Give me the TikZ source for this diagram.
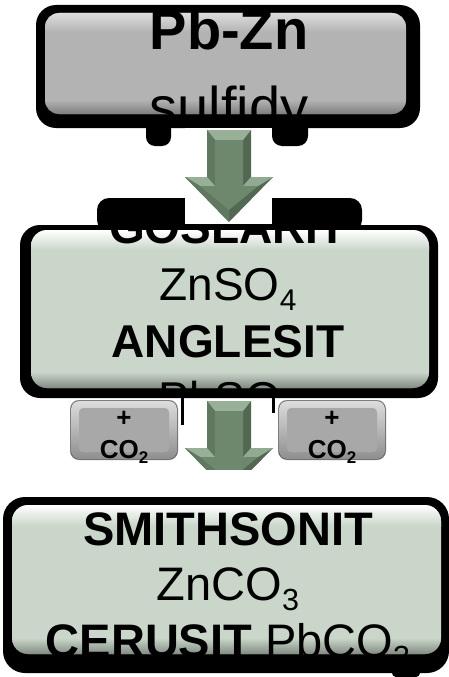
\documentclass[tikz,border=0pt]{standalone}
\usepackage{fontspec}
\setmainfont{Liberation Sans}
\definecolor{boxgray}{RGB}{179,179,179}
\definecolor{boxgreen}{RGB}{201,214,201}
\definecolor{arrowdark}{RGB}{82,104,82}
\definecolor{arrowmid}{RGB}{110,136,110}
\definecolor{arrowside}{RGB}{96,120,96}
\definecolor{arrowlight}{RGB}{152,176,152}
\definecolor{smallgray}{RGB}{168,168,168}
\newcommand\lowsub[1]{\raisebox{-0.22em}{\scalebox{0.65}{#1}}}
\newcommand\blockarrow{%
  \fill[arrowdark] (207,130) -- (251,130) -- (251,177) -- (273,177) -- (229,222) -- (185,177) -- (207,177) -- cycle;
  \fill[arrowlight] (207,130) -- (251,130) -- (243,140) -- (215,140) -- cycle;
  \fill[arrowside] (207,130) -- (215,140) -- (215,186) -- (207,177) -- cycle;
  \fill[arrowlight] (185,177) -- (207,177) -- (215,186) -- (200,186) -- cycle;
  \fill[arrowlight!85!arrowmid] (273,177) -- (251,177) -- (243,186) -- (258,186) -- cycle;
  \fill[arrowside] (185,177) -- (200,186) -- (229,210) -- (229,222) -- cycle;
  \fill[arrowmid] (215,140) -- (243,140) -- (243,186) -- (258,186) -- (229,210) -- (200,186) -- (215,186) -- cycle;
}
\tikzset{
  shadowblob/.style={fill=black},
  txt/.style={anchor=base, inner sep=0pt, text=black},
  bigfont/.style={font=\fontsize{56}{60}\selectfont},
  bigbold/.style={font=\fontsize{56}{60}\selectfont\bfseries},
  midfont/.style={font=\fontsize{46}{50}\selectfont},
  midbold/.style={font=\fontsize{46}{50}\selectfont\bfseries},
  lowfont/.style={font=\fontsize{47}{50}\selectfont},
  lowbold/.style={font=\fontsize{47}{50}\selectfont\bfseries},
  smallfont/.style={font=\fontsize{26}{28}\selectfont\bfseries},
}
\begin{document}
\begin{tikzpicture}[x=1pt,y=-1pt]
\useasboundingbox (0,0) rectangle (449,677);
\fill[white] (0,0) rectangle (449,677);

% ---------- top box ----------
\fill[shadowblob, rounded corners=20] (36,5) rectangle (420,128);
\fill[shadowblob, rounded corners=9] (146,116) rectangle (171,146);
\fill[shadowblob, rounded corners=10] (272,116) rectangle (308,146);
\fill[boxgray, rounded corners=14] (45,13) rectangle (406,114);
\begin{scope}
  \clip[rounded corners=14] (45,13) rectangle (406,114);
  \fill[top color=boxgray!45!white, bottom color=boxgray] (45,13) rectangle (406,32);
  \fill[top color=boxgray, bottom color=boxgray!70!black] (45,100) rectangle (406,114);
\end{scope}
\begin{scope}
  \clip[rounded corners=14] (45,5) rectangle (406,114);
  \node[txt, bigbold] (pbzn) at (229,50) {Pb-Zn};
  \node[txt, bigfont] (sulf) at (229,126) {sulfidy};
\end{scope}

% ---------- middle box ----------
\fill[shadowblob, rounded corners=12] (97,198) rectangle (362,232);
\fill[shadowblob, rounded corners=20] (20,225) rectangle (438,398);
\fill[boxgreen, rounded corners=16] (31,230) rectangle (429,388);
\begin{scope}
  \clip[rounded corners=16] (31,230) rectangle (429,388);
  \fill[top color=white, bottom color=boxgreen] (31,230) rectangle (429,250);
  \fill[top color=boxgreen, bottom color=boxgreen!65!black] (31,372) rectangle (429,388);
  \node[txt, midbold] (gosl) at (228,243) {GOSLARIT};
  \node[txt, midfont] (znso) at (228,300) {ZnSO\lowsub{4}};
  \node[txt, midbold] (angl) at (228,357) {ANGLESIT};
  \node[txt, midfont] (pbso) at (228,414) {PbSO\lowsub{4}};
\end{scope}

% ---------- arrow 1 ----------
\fill[white] (185,128) rectangle (272,224);
\blockarrow

% ---------- small boxes ----------
\draw[line width=3pt] (182.5,398) -- (182.5,425);
\draw[line width=3pt] (273.5,398) -- (273.5,413);
\foreach \cx/\nm in {124/L, 332/R} {
  \fill[smallgray!75!black, rounded corners=9] (\cx-54,400) rectangle (\cx+54,460);
  \fill[top color=smallgray!40!white, bottom color=smallgray!85!black, rounded corners=8] (\cx-53,401) rectangle (\cx+53,459);
  \fill[smallgray, rounded corners=4] (\cx-45,408) rectangle (\cx+45,452);
  \node[txt, smallfont] (plus\nm) at (\cx,426) {+};
  \node[txt, smallfont] (co\nm) at (\cx,458) {CO\lowsub{2}};
}

% ---------- arrow 2 ----------
\begin{scope}
  \clip (180,398) rectangle (276,469);
  \begin{scope}[shift={(0,271)}]
    \blockarrow
  \end{scope}
\end{scope}

% ---------- bottom box ----------
\fill[shadowblob, rounded corners=22] (3,497) rectangle (449,673);
\fill[shadowblob, rounded corners=4] (392,660) rectangle (420,677);
\fill[boxgreen, rounded corners=16] (12,505) rectangle (441,654);
\begin{scope}
  \clip[rounded corners=16] (12,505) rectangle (441,654);
  \fill[top color=white, bottom color=boxgreen] (12,505) rectangle (441,526);
  \fill[top color=boxgreen, bottom color=boxgreen!65!black] (12,638) rectangle (441,654);
  \node[txt, lowbold] (smit) at (228,545) {SMITHSONIT};
  \node[txt, lowfont] (znco) at (228,600) {ZnCO\lowsub{3}};
  \node[txt, lowfont] (ceru) at (228,657) {\textbf{CERUSIT} PbCO\lowsub{3}};
\end{scope}
\end{tikzpicture}
\end{document}
